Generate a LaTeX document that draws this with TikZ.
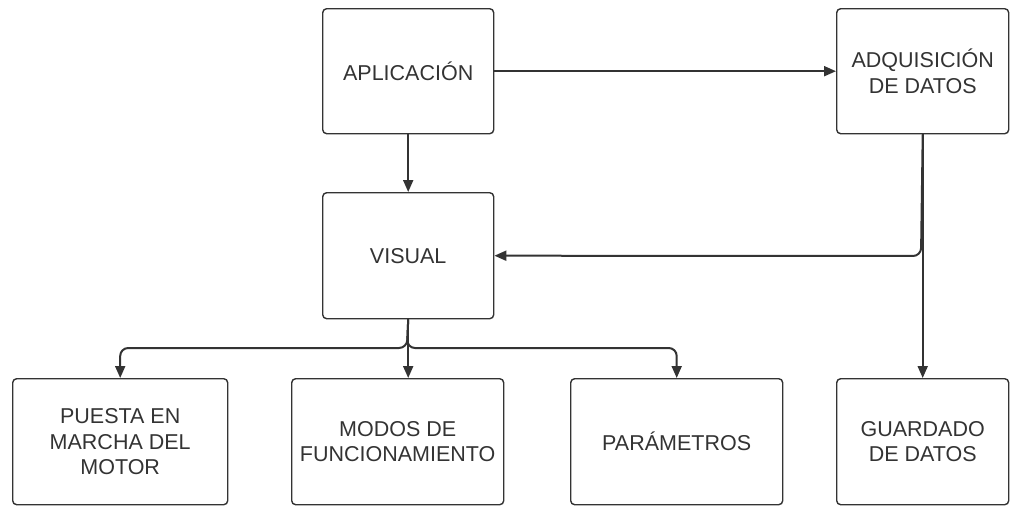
\documentclass[tikz,border=0pt]{standalone}
\usepackage{fontspec}
\setmainfont{Liberation Sans}
\usetikzlibrary{arrows.meta}
\definecolor{ink}{HTML}{333333}
\tikzset{
  box/.style={draw=ink, line width=1.4pt, rounded corners=4pt, anchor=north west, inner sep=0pt,
    align=center, text=ink, font=\fontsize{21.5}{25.5}\selectfont},
  conn/.style={draw=ink, line width=2pt, -{Triangle[length=12pt,width=10pt]}},
}
\begin{document}
\begin{tikzpicture}[x=1pt,y=-1pt]
\useasboundingbox (0,0) rectangle (1020,514);
\node[box, minimum width=171pt, minimum height=125pt] (apl) at (322,8) {APLICACIÓN};
\node[box, minimum width=172pt, minimum height=125pt] (adq) at (836,8) {ADQUISICIÓN\\DE DATOS};
\node[box, minimum width=171pt, minimum height=126pt] (vis) at (322,192) {VISUAL};
\node[box, minimum width=215pt, minimum height=126pt] (pue) at (12,378) {PUESTA EN\\MARCHA DEL\\MOTOR};
\node[box, minimum width=212pt, minimum height=126pt] (mod) at (291,378) {MODOS DE\\FUNCIONAMIENTO};
\node[box, minimum width=212pt, minimum height=126pt] (par) at (570,378) {PARÁMETROS};
\node[box, minimum width=172pt, minimum height=126pt] (gua) at (836,378) {GUARDADO\\DE DATOS};
\coordinate (jv) at (407,348);
\coordinate (ja) at (921,256);
\draw[conn] (apl.east) -- (adq.west);
\draw[conn] (apl.south) -- (vis.north);
\draw[conn] (adq.south) -- (gua.north);
\draw[conn, rounded corners=8pt] (adq.south) -- (ja) -- (vis.east);
\draw[conn] (vis.south) -- (vis.south |- mod.north);
\draw[conn, rounded corners=8pt] (vis.south) -- (jv) -- (pue.north |- jv) -- (pue.north);
\draw[conn, rounded corners=8pt] (vis.south) -- (jv) -- (par.north |- jv) -- (par.north);
\end{tikzpicture}
\end{document}
